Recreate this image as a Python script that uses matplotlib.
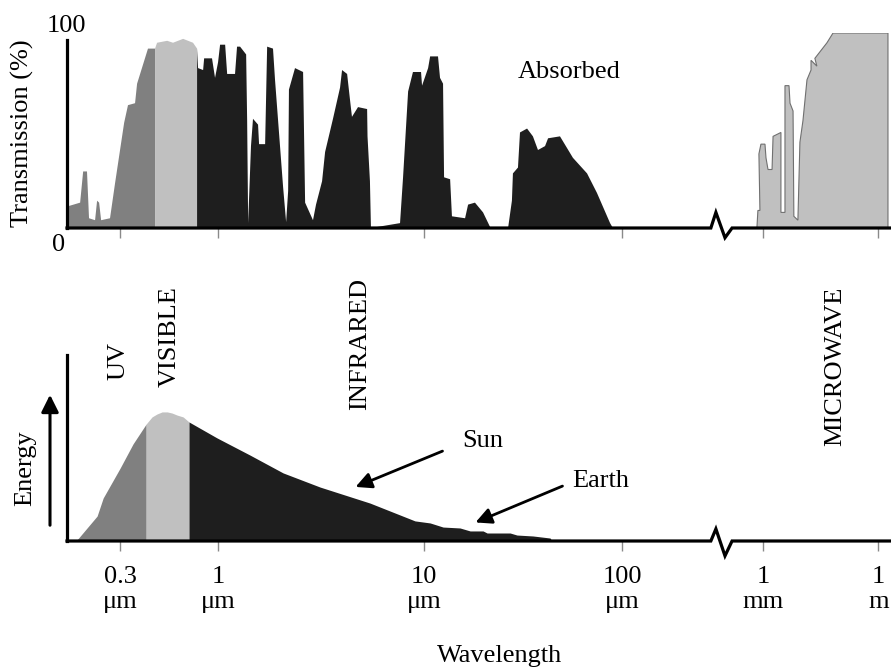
import matplotlib
matplotlib.use("Agg")
import matplotlib.pyplot as plt

plt.rcParams['font.family'] = ['Liberation Serif', 'DejaVu Serif']
plt.rcParams['font.size'] = 19

W, H = 891, 671

# x axis: schematic wavelength position (~log10 of wavelength in um, broken after 100 um)
TICK_POS = [-0.485, 0.0, 1.02, 2.0, 2.70, 3.27]
TICK_LABELS = ["0.3\nμm", "1\nμm", "10\nμm", "100\nμm", "1\nmm", "1\nm"]
X_MIN, X_MAX = -0.748, 3.332
BREAK_U = [2.44, 2.465, 2.51, 2.545]

# atmospheric transmission (%)
UV_U = [-0.748, -0.683, -0.668, -0.649, -0.639, -0.609, -0.599, -0.589, -0.579,
        -0.535, -0.510, -0.465, -0.446, -0.411, -0.401, -0.347, -0.312]
UV_T = [11, 13, 29, 29, 5, 4, 14, 13, 4, 5, 23, 54, 63, 64, 74, 92, 92]

VIS_U = [-0.312, -0.302, -0.252, -0.223, -0.173, -0.124, -0.104]
VIS_T = [92, 95, 96, 95, 97, 95, 92]

IR_U = [-0.104, -0.099, -0.074, -0.069, -0.030, -0.015, 0.000, 0.010, 0.035, 0.045,
        0.084, 0.094, 0.109, 0.139, 0.144, 0.149, 0.163, 0.173, 0.198, 0.203,
        0.233, 0.243, 0.272, 0.282, 0.322, 0.337, 0.347, 0.351, 0.381, 0.421,
        0.431, 0.470, 0.485, 0.515, 0.530, 0.569, 0.604, 0.614, 0.639, 0.653,
        0.663, 0.693, 0.738, 0.740, 0.752, 0.757, 0.901, 0.916, 0.941, 0.965,
        1.005, 1.010, 1.040, 1.050, 1.089, 1.099, 1.114, 1.119, 1.149, 1.158,
        1.223, 1.238, 1.272, 1.312, 1.347, 1.436, 1.455, 1.460, 1.485, 1.495,
        1.530, 1.559, 1.584, 1.619, 1.634, 1.693, 1.757, 1.827, 1.876, 1.941, 1.955]
IR_T = [92, 82, 81, 87, 87, 77, 85, 94, 94, 79,
        79, 93, 93, 89, 55, 2.5, 42, 56, 53, 43,
        43, 93, 92, 76, 21, 3, 19, 71, 82, 80,
        13, 4, 12, 24, 39, 56, 72, 81, 79, 66,
        57, 62, 61, 47, 24, 0, 2.5, 26, 70, 80,
        80, 73, 82, 88, 88, 77, 74, 26, 25, 6,
        5, 12, 13, 8, 0.5, 0, 14, 28, 31, 49,
        51, 47, 40, 42, 46, 47, 36, 28, 18, 2.5, 0]

MW_U = [2.668, 2.673, 2.683, 2.678, 2.688, 2.708, 2.713, 2.723, 2.743, 2.748,
        2.787, 2.787, 2.807, 2.807, 2.827, 2.832, 2.847, 2.851, 2.871, 2.881,
        2.896, 2.916, 2.936, 2.936, 2.965, 2.955, 3.015, 3.045, 3.317, 3.317]
MW_T = [0, 9, 9, 38, 43, 43, 36, 30, 30, 47,
        49, 8, 8, 73, 73, 64, 60, 6, 4, 44,
        55, 76, 81, 86, 83, 87, 95, 100, 100, 0]

# emitted energy (relative), sun + earth
SUN_U = [-0.703, -0.599, -0.569, -0.485, -0.421, -0.356, -0.327, -0.302, -0.277,
         -0.252, -0.228, -0.203, -0.173, -0.144, -0.005, 0.158, 0.322, 0.505,
         0.752, 0.975, 1.050, 1.114, 1.198, 1.248, 1.312, 1.332, 1.446, 1.480,
         1.559, 1.644, 1.653]
SUN_E = [0, 13.4, 23.1, 39.2, 52.2, 62.9, 66.7, 68.3, 69.4,
         69.4, 68.8, 67.7, 66.7, 64.0, 55.4, 46.2, 36.6, 29.0,
         20.4, 10.8, 9.7, 7.5, 7.0, 5.4, 5.4, 4.3, 4.3, 3.2,
         2.7, 1.6, 0]
UV_EDGE, VIS_EDGE = -0.356, -0.144

C_UV, C_VIS, C_IR = '#808080', '#c0c0c0', '#1e1e1e'


def fx(px):
    return px / W


def fy(py):
    return 1 - py / H


fig = plt.figure(figsize=(W / 100, H / 100), dpi=100)

# ---- top: transmission ----
ax1 = fig.add_axes([fx(67), fy(228), (W - 67) / W, 195 / H])
ax1.set_xlim(X_MIN, X_MAX)
ax1.set_ylim(0, 100)


def polyfill(ax, u, v, **kw):
    ax.fill(list(u) + [u[-1], u[0]], list(v) + [0, 0], **kw)


polyfill(ax1, UV_U, UV_T, color=C_UV, lw=0)
polyfill(ax1, VIS_U, VIS_T, color=C_VIS, lw=0)
polyfill(ax1, IR_U, IR_T, color=C_IR, lw=0)
polyfill(ax1, MW_U, MW_T, facecolor=C_VIS, edgecolor='#707070', lw=0.8)

ax1.plot([X_MIN] + BREAK_U + [X_MAX - 0.005], [0, 0, 8, -5, 0, 0], color='black', lw=2.3,
         clip_on=False, zorder=5, solid_joinstyle='miter')

# ---- bottom: energy ----
ax2 = fig.add_axes([fx(67), fy(541), (W - 67) / W, 186 / H])
ax2.set_xlim(X_MIN, X_MAX)
ax2.set_ylim(0, 100)

uv_mask = [u <= UV_EDGE for u in SUN_U]
vis_mask = [UV_EDGE <= u <= VIS_EDGE for u in SUN_U]
ir_mask = [u >= VIS_EDGE for u in SUN_U]
ax2.fill_between(SUN_U, SUN_E, where=uv_mask, color=C_UV, lw=0)
ax2.fill_between(SUN_U, SUN_E, where=vis_mask, color=C_VIS, lw=0)
ax2.fill_between(SUN_U, SUN_E, where=ir_mask, color=C_IR, lw=0)

ax2.plot([X_MIN] + BREAK_U + [X_MAX - 0.005], [0, 0, 6.5, -8, 0, 0], color='black', lw=2.3,
         clip_on=False, zorder=5, solid_joinstyle='miter')

arrow = dict(arrowstyle='-|>', color='black', lw=2, mutation_scale=24)
ax2.annotate('', xy=(0.668, 28.5), xytext=(1.124, 48.9), arrowprops=arrow)
ax2.annotate('', xy=(1.262, 9.4), xytext=(1.718, 30.1), arrowprops=arrow)
ax2.text(1.312, 53.8, 'Sun', ha='center', va='center')
ax2.text(1.896, 32.3, 'Earth', ha='center', va='center')

for ax in (ax1, ax2):
    for side in ('top', 'right', 'bottom'):
        ax.spines[side].set_visible(False)
    ax.spines['left'].set_linewidth(2.3)
    ax.set_yticks([])
    ax.set_xticks(TICK_POS)
    ax.tick_params(axis='x', direction='out', length=7, width=1, color='#8a8a8a')

ax1.spines['left'].set_bounds(0, 96.4)
ax1.set_xticklabels([])
ax2.set_xticklabels(TICK_LABELS)
ax2.tick_params(axis='x', pad=11, labelsize=19)
for lbl in ax2.get_xticklabels():
    lbl.set_linespacing(1.2)

# ---- texts ----
fig.text(fx(22), fy(133), 'Transmission (%)', rotation=90, ha='center', va='center')
fig.text(fx(66), fy(26), '100', ha='center', va='center')
fig.text(fx(59), fy(245), '0', ha='center', va='center')
fig.text(fx(569), fy(72), 'Absorbed', ha='center', va='center')

fig.text(fx(118), fy(361), 'UV', rotation=90, ha='center', va='center')
fig.text(fx(170), fy(337), 'VISIBLE', rotation=90, ha='center', va='center')
fig.text(fx(360), fy(344), 'INFRARED', rotation=90, ha='center', va='center')
fig.text(fx(835), fy(366), 'MICROWAVE', rotation=90, ha='center', va='center')

fig.text(fx(25), fy(468), 'Energy', rotation=90, ha='center', va='center')
fig.patches.append(matplotlib.patches.FancyArrowPatch(
    (fx(50), fy(528)), (fx(50), fy(392)), transform=fig.transFigure,
    arrowstyle='-|>', color='black', lw=2.2, mutation_scale=26))

fig.text(fx(500), fy(656), 'Wavelength', ha='center', va='center')

fig.savefig('out.png', dpi=100)
